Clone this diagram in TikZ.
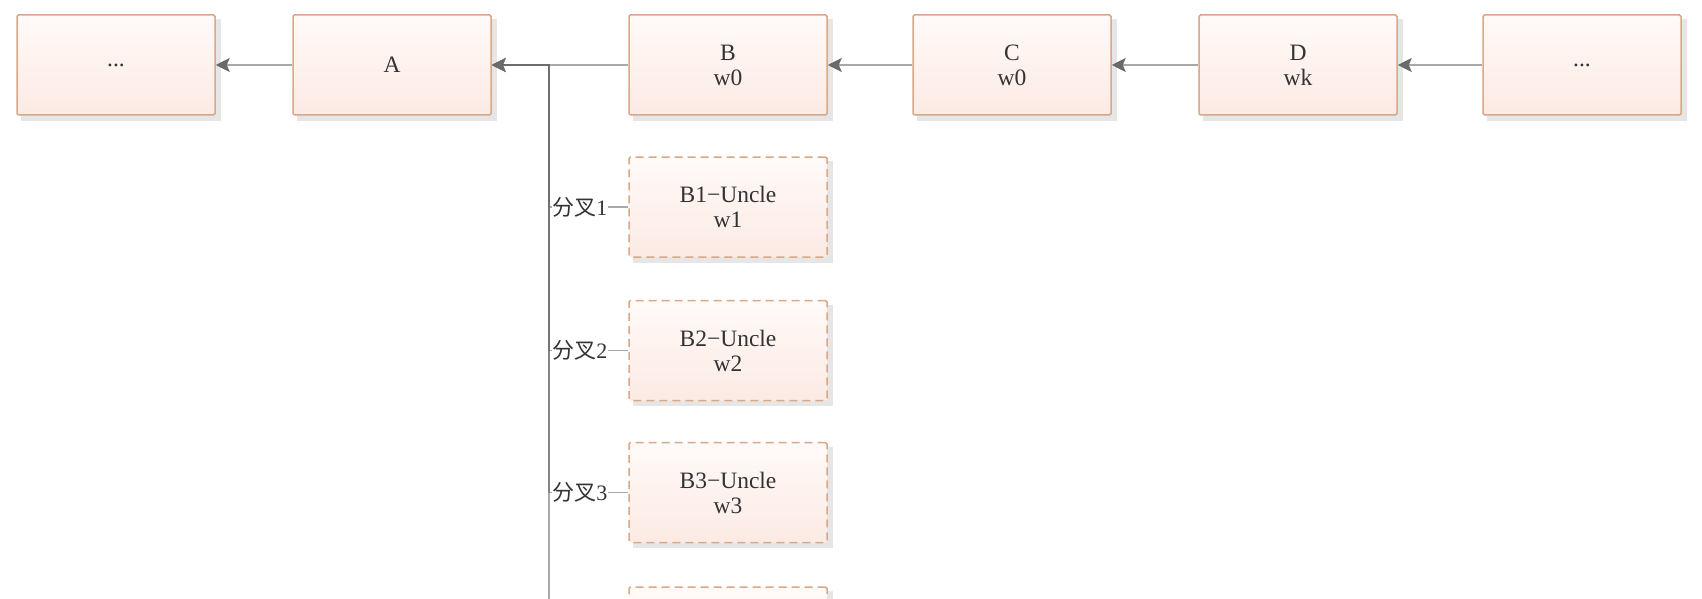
\documentclass[tikz,border=0pt]{standalone}
\usepackage{fontspec}
\setmainfont{Liberation Serif}
\newfontfamily\cjk{Noto Sans CJK SC}
\usetikzlibrary{arrows.meta,backgrounds,calc}
\definecolor{boxborder}{HTML}{D8A888}
\definecolor{boxtop}{HTML}{FFFAF8}
\definecolor{boxbot}{HTML}{FCEAE4}
\definecolor{linkgray}{HTML}{A8A8A8}
\definecolor{tipgray}{HTML}{6A6A6A}
\definecolor{shadowgray}{HTML}{E6E6E6}
\definecolor{txt}{HTML}{333333}
\begin{document}
\begin{tikzpicture}[x=1pt,y=-1pt,
  blk/.style={draw=boxborder, line width=1.5pt, rounded corners=1.5pt,
    top color=boxtop, bottom color=boxbot,
    minimum width=198pt, minimum height=100pt, inner sep=0pt,
    align=center, text=txt, font=\fontsize{23.5}{25}\selectfont},
  uncle/.style={blk, dash pattern=on 8pt off 5pt},
  tipshape/.style={-{Stealth[length=14pt, width=14pt, inset=3pt, color=tipgray]}},
  link/.style={draw=linkgray, line width=1.3pt, tipshape},
  branch/.style={draw=tipgray, line width=1.3pt, opacity=0.58,
    -{Stealth[length=14pt, width=14pt, inset=3pt]}},
  lbl/.style={fill=white, opacity=1, text opacity=1, inner sep=0.5pt,
    text=txt, font=\fontsize{22}{24}\selectfont}]
\useasboundingbox (0,0) rectangle (1702,599);
\clip (0,0) rectangle (1702,599);

% main chain
\node[blk] (X0) at (116,65) {...};
\node[blk] (A)  at (392,65) {A};
\node[blk] (B)  at (728,65) {B\\w0};
\node[blk] (C)  at (1012,65) {C\\w0};
\node[blk] (D)  at (1298,65) {D\\wk};
\node[blk] (E)  at (1582,65) {...};

% uncle blocks
\node[uncle] (U1) at (728,207) {B1{\fontspec{Liberation Serif}−}Uncle\\w1};
\node[uncle] (U2) at (728,350.5) {B2{\fontspec{Liberation Serif}−}Uncle\\w2};
\node[uncle] (U3) at (728,492.5) {B3{\fontspec{Liberation Serif}−}Uncle\\w3};
\node[uncle] (U4) at (728,637) {};

% shadows
\begin{scope}[on background layer]
  \foreach \n in {X0,A,B,C,D,E,U1,U2,U3,U4}
    \fill[shadowgray] ($(\n.north west)+(5,5)$) rectangle ($(\n.south east)+(5,5)$);
\end{scope}

% chain connectors
\draw[link] (A) -- (X0);
\draw[link] (C) -- (B);
\draw[link] (D) -- (C);
\draw[link] (E) -- (D);

% fork connectors
\coordinate (j) at (549,65);
\draw[branch] (U4.west) -- (U4.west -| j) -- (j) -- (A.east);
\draw[branch] (U3.west) -- node[lbl, pos=0.61] {{\cjk 分叉}3} (U3.west -| j) -- (j) -- (A.east);
\draw[branch] (U2.west) -- node[lbl, pos=0.61] {{\cjk 分叉}2} (U2.west -| j) -- (j) -- (A.east);
\draw[branch] (U1.west) -- node[lbl, pos=0.61] {{\cjk 分叉}1} (U1.west -| j) -- (j) -- (A.east);
\draw[branch] (B) -- (A);
\end{tikzpicture}
\end{document}
